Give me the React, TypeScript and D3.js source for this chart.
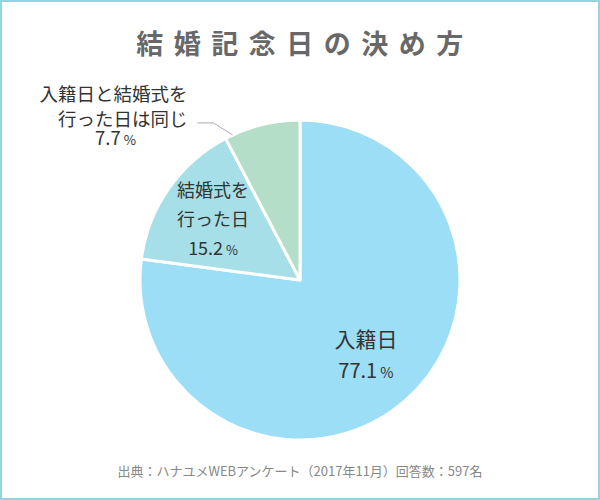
import * as d3 from "d3";
import { useEffect, useRef } from "react";

const title = "結婚記念日の決め方";
const source = "出典：ハナユメWEBアンケート（2017年11月）回答数：597名";
const categories = [["入籍日"], ["結婚式を", "行った日"], ["入籍日と結婚式を", "行った日は同じ"]];
const values = [77.1, 15.2, 7.7];
const colors = ["#9cdef6", "#a6dfe7", "#b5dec9"];

const App = () => {
  const ref = useRef<SVGSVGElement>(null);

  useEffect(() => {
    const width = 600;
    const height = 500;
    const svg = d3.select(ref.current);
    svg.selectAll("*").remove();
    svg.attr("width", width).attr("height", height);

    const font = "'Noto Sans CJK JP', 'Noto Sans', sans-serif";

    svg
      .append("rect")
      .attr("x", 1)
      .attr("y", 1)
      .attr("width", width - 2)
      .attr("height", height - 2)
      .attr("fill", "#fff")
      .attr("stroke", "#8fd6e4")
      .attr("stroke-width", 2);

    svg
      .append("text")
      .attr("x", width / 2 + 5)
      .attr("y", 54)
      .attr("text-anchor", "middle")
      .attr("font-family", font)
      .attr("font-weight", "bold")
      .attr("font-size", 27)
      .attr("letter-spacing", 10.5)
      .attr("fill", "#686868")
      .text(title);

    const cx = 300;
    const cy = 280;
    const r = 160;

    const pie = d3
      .pie<number>()
      .sort(null)
      .value((d) => d);
    const arcs = pie(values);
    const arc = d3.arc<d3.PieArcDatum<number>>().innerRadius(0).outerRadius(r);
    // label radius per inner slice
    const labelR = [100, 106];

    const g = svg.append("g").attr("transform", `translate(${cx},${cy})`);

    g.selectAll("path")
      .data(arcs)
      .enter()
      .append("path")
      .attr("d", arc)
      .attr("fill", (_, i) => colors[i])
      .attr("stroke", "#fff")
      .attr("stroke-width", 3)
      .attr("stroke-linejoin", "round");

    const pct = (sel: d3.Selection<SVGTextElement, unknown, null, undefined>, v: number, big: number) => {
      sel.append("tspan").attr("font-size", big).text(v.toFixed(1));
      sel
        .append("tspan")
        .attr("font-size", big * 0.72)
        .attr("dx", 3)
        .text("%");
    };

    // inner labels
    arcs.slice(0, 2).forEach((a, i) => {
      const [lx, ly] = d3
        .arc<d3.PieArcDatum<number>>()
        .innerRadius(labelR[i])
        .outerRadius(labelR[i])
        .centroid(a);
      const lines = categories[i];
      const size = i === 0 ? 21 : 18;
      const lh = i === 0 ? 31 : 29;
      const total = lines.length * lh;
      const top = ly - total / 2 + size * 0.35;
      lines.forEach((t, j) => {
        g.append("text")
          .attr("x", lx)
          .attr("y", top + j * lh)
          .attr("text-anchor", "middle")
          .attr("font-family", font)
          .attr("font-size", size)
          .attr("fill", "#333")
          .text(t);
      });
      const pt = g
        .append("text")
        .attr("x", lx)
        .attr("y", top + lines.length * lh)
        .attr("text-anchor", "middle")
        .attr("font-family", font)
        .attr("fill", "#333");
      pct(pt, values[i], i === 0 ? 20 : 18);
    });

    // outer label with leader
    const small = arcs[2];
    const ang = small.startAngle + (small.endAngle - small.startAngle) * 0.1;
    const px = r * Math.sin(ang);
    const py = -r * Math.cos(ang);
    const ex = px - 19;
    const ey = py - 12;
    const tx = ex - 16;
    g.append("polyline")
      .attr("points", `${px},${py} ${ex},${ey} ${tx},${ey}`)
      .attr("fill", "none")
      .attr("stroke", "#aaa")
      .attr("stroke-width", 1);

    const ox = tx - 10;
    categories[2].forEach((t, j) => {
      g.append("text")
        .attr("x", ox)
        .attr("y", ey - 22 + j * 25)
        .attr("text-anchor", "end")
        .attr("font-family", font)
        .attr("font-size", 18.5)
        .attr("fill", "#333")
        .text(t);
    });
    const op = g
      .append("text")
      .attr("x", ox - 72)
      .attr("y", ey + 22)
      .attr("text-anchor", "middle")
      .attr("font-family", font)
      .attr("fill", "#333");
    pct(op, values[2], 18.5);

    svg
      .append("text")
      .attr("x", width / 2)
      .attr("y", 476)
      .attr("text-anchor", "middle")
      .attr("font-family", font)
      .attr("font-size", 13)
      .attr("fill", "#888")
      .text(source);
  }, []);

  return (
    <div style={{ position: "fixed", left: 0, top: 0 }}>
      <svg ref={ref}></svg>
    </div>
  );
};

export default App;
